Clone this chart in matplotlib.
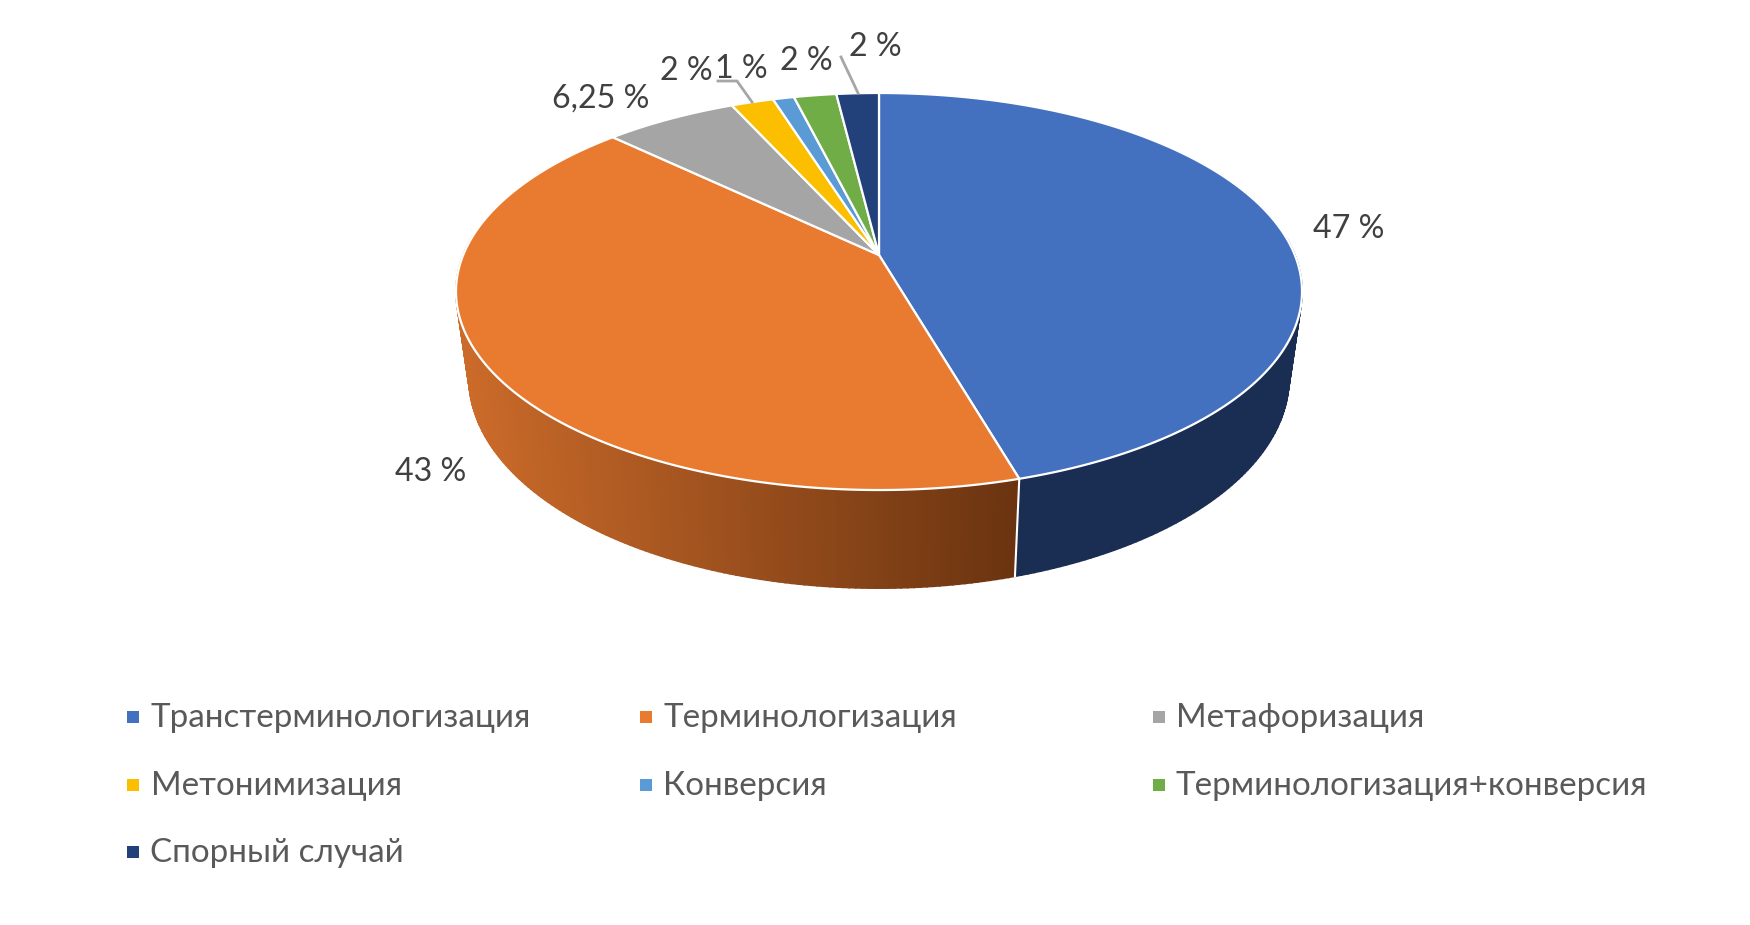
import numpy as np
from matplotlib import pyplot as plt
from matplotlib.patches import Rectangle

plt.rcParams['font.family'] = ['Lato', 'Noto Sans', 'DejaVu Sans']

names = ['Транстерминологизация', 'Терминологизация', 'Метафоризация', 'Метонимизация',
         'Конверсия', 'Терминологизация+конверсия', 'Спорный случай']
values = [47, 43, 6.25, 2, 1, 2, 2]
labels = ['47 %', '43 %', '6,25 %', '2 %', '1 %', '2 %', '2 %']
colors = ['#4371C0', '#E97B30', '#A5A5A5', '#FBBF00', '#5B9BD5', '#70AD47', '#22407A']

# where the labels sit, in image pixels
label_x = [1349, 431, 601, 686, 741, 806, 875]
label_y = [229, 472, 99, 71, 69, 61, 47]

# legend grid
col_x = [127, 640, 1153]
text_x = [150.5, 663.5, 1176]
row_y = [727, 795, 862]

# pie geometry, perspective circle
cx = 879
apex_y = 255
A = 415.8
B = 191.8
k = 0.1839
bottom_A = 403
bottom_B = 203
bottom_apex_y = 339.4


def top_point(t):
    u, v = np.sin(t), np.cos(t)
    w = 1 + k * v
    return cx + A * u / w, apex_y - B * v / w


def bottom_point(t):
    u, v = np.sin(t), np.cos(t)
    w = 1 + k * v
    return cx + bottom_A * u / w, bottom_apex_y - bottom_B * v / w


def orange_side(x):
    f = np.clip((x - 460) / (1020 - 460), 0, 1)
    c1 = np.array([0xCB, 0x6B, 0x2A]) / 255
    c2 = np.array([0x6A, 0x33, 0x10]) / 255
    return c1 + (c2 - c1) * f


fig = plt.figure(figsize=(17.5, 9.25), dpi=100)
ax = fig.add_axes([0, 0, 1, 1])
ax.set_xlim(0, 1750)
ax.set_ylim(925, 0)
ax.axis('off')

vals = np.array(values, dtype=float)
edges = np.concatenate([[0], np.cumsum(vals)]) / vals.sum() * 2 * np.pi

# side wall first, cut in strips; the back half is hidden anyway
for i in range(2):
    ts = np.linspace(edges[i], edges[i + 1], 200)
    for t0, t1 in zip(ts[:-1], ts[1:]):
        if np.cos(t0) > 0.1:
            continue
        x0, y0 = top_point(t0)
        x1, y1 = top_point(t1)
        x2, y2 = bottom_point(t1)
        x3, y3 = bottom_point(t0)
        c = '#1A2D52' if i == 0 else orange_side((x0 + x1) / 2)
        ax.fill([x0, x1, x2, x3], [y0, y1, y2, y3], color=c, lw=1.2, zorder=1)

# divider on the front wall
x0, y0 = top_point(edges[1])
x1, y1 = bottom_point(edges[1])
ax.plot([x0, x1], [y0, y1], color='white', lw=1.5, zorder=2)

# top face
for i in range(len(vals)):
    ts = np.linspace(edges[i], edges[i + 1], 200)
    xs, ys = top_point(ts)
    ax.fill(np.r_[cx, xs], np.r_[apex_y, ys], facecolor=colors[i], edgecolor='white',
            lw=1.6, joinstyle='round', zorder=3)

# leader lines
ax.plot([718, 737, 752], [81, 81, 102], color='#A6A6A6', lw=2, zorder=4)
ax.plot([841, 858], [57, 93], color='#A6A6A6', lw=2, zorder=4)

for i in range(len(labels)):
    ax.text(label_x[i], label_y[i], labels[i], fontsize=23.2, color='#404040',
            ha='center', va='center', zorder=5)

# legend
for i in range(len(names)):
    r, c = i // 3, i % 3
    ax.add_patch(Rectangle((col_x[c], row_y[r] - 16), 12, 12, facecolor=colors[i], edgecolor='none'))
    ax.text(text_x[c], row_y[r], names[i], fontsize=23.9, color='#595959', ha='left', va='baseline')

fig.savefig('out.png', dpi=100)
